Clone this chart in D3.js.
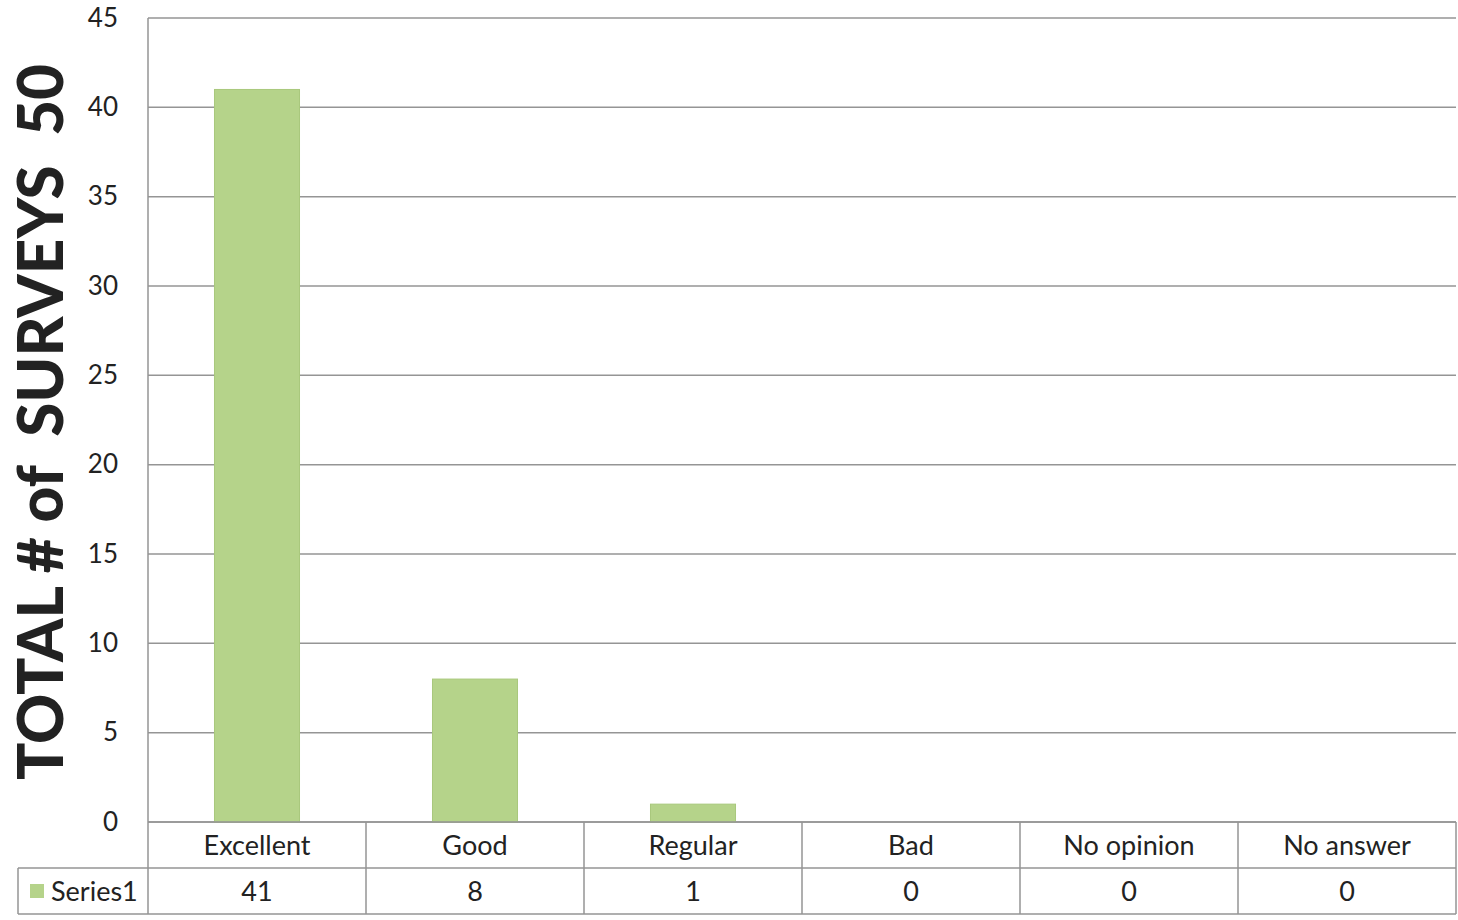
<!DOCTYPE html>
<html>
<head>
<meta charset="utf-8">
<script src="https://cdn.jsdelivr.net/npm/d3@7"></script>
<style>
  body { margin: 0; background: #fff; }
  svg text { font-family: Lato, "Open Sans", sans-serif; fill: #222; }
</style>
</head>
<body>
<svg id="chart"></svg>
<script>
const categories = ['Excellent', 'Good', 'Regular', 'Bad', 'No opinion', 'No answer'];
const seriesName = 'Series1';
const values = [41, 8, 1, 0, 0, 0];
const yTicks = [0, 5, 10, 15, 20, 25, 30, 35, 40, 45];
const yTitle = 'TOTAL # of  SURVEYS  50';

const width = 1458;
const height = 920;
const plot = { left: 148, top: 18, right: 1456, bottom: 822 };
const rowH = 46;
const barColor = '#b5d38a';
const gridColor = '#959595';

const svg = d3.select('svg#chart')
  .attr('width', width)
  .attr('height', height);

const xScale = d3.scaleBand()
  .domain(categories)
  .range([plot.left, plot.right])
  .paddingInner(0)
  .paddingOuter(0);

const yScale = d3.scaleLinear()
  .domain([0, 45])
  .range([plot.bottom, plot.top]);

// gridlines
svg.append('g')
  .selectAll('line')
  .data(yTicks)
  .enter()
  .append('line')
    .attr('x1', plot.left)
    .attr('x2', plot.right)
    .attr('y1', d => yScale(d))
    .attr('y2', d => yScale(d))
    .attr('stroke', gridColor)
    .attr('stroke-width', 1.5);

// left axis line
svg.append('line')
  .attr('x1', plot.left).attr('x2', plot.left)
  .attr('y1', plot.top).attr('y2', plot.bottom)
  .attr('stroke', gridColor)
  .attr('stroke-width', 1.5);

// y tick labels
const yAxis = svg.append('g')
  .attr('transform', `translate(${plot.left - 30},0)`)
  .call(d3.axisLeft(yScale).tickValues(yTicks).tickSize(0).tickPadding(0));
yAxis.select('.domain').remove();
yAxis.selectAll('text')
  .style('font-size', '26px')
  .style('font-family', 'Lato, sans-serif')
  .attr('fill', '#222');

// bars
const barW = xScale.bandwidth() * 0.39;
svg.selectAll('rect.bar')
  .data(values)
  .enter()
  .append('rect')
    .attr('class', 'bar')
    .attr('x', (d, i) => xScale(categories[i]) + xScale.bandwidth() / 2 - barW / 2)
    .attr('width', barW)
    .attr('y', d => yScale(d))
    .attr('height', d => plot.bottom - yScale(d))
    .attr('fill', barColor)
    .attr('stroke', '#a9c87c')
    .attr('stroke-width', 1);

// data table
const table = svg.append('g');
const tableLeft = 18;
const rows = [plot.bottom, plot.bottom + rowH, plot.bottom + rowH * 2];

table.append('line')
  .attr('x1', plot.left).attr('x2', plot.right)
  .attr('y1', rows[0]).attr('y2', rows[0]);
table.append('line')
  .attr('x1', tableLeft).attr('x2', plot.right)
  .attr('y1', rows[1]).attr('y2', rows[1]);
table.append('line')
  .attr('x1', tableLeft).attr('x2', plot.right)
  .attr('y1', rows[2]).attr('y2', rows[2]);
table.append('line')
  .attr('x1', tableLeft).attr('x2', tableLeft)
  .attr('y1', rows[1]).attr('y2', rows[2]);

table.selectAll('line.sep')
  .data(categories.concat(['end']))
  .enter()
  .append('line')
    .attr('class', 'sep')
    .attr('x1', (d, i) => i < categories.length ? xScale(d) : plot.right)
    .attr('x2', (d, i) => i < categories.length ? xScale(d) : plot.right)
    .attr('y1', rows[0])
    .attr('y2', rows[2]);

table.selectAll('line')
  .attr('stroke', gridColor)
  .attr('stroke-width', 1.5);

// category labels
table.selectAll('text.cat')
  .data(categories)
  .enter()
  .append('text')
    .attr('class', 'cat')
    .attr('x', d => xScale(d) + xScale.bandwidth() / 2)
    .attr('y', rows[0] + rowH / 2 + 10)
    .attr('text-anchor', 'middle')
    .style('font-size', '27px')
    .text(d => d);

// values row
table.selectAll('text.val')
  .data(values)
  .enter()
  .append('text')
    .attr('class', 'val')
    .attr('x', (d, i) => xScale(categories[i]) + xScale.bandwidth() / 2)
    .attr('y', rows[1] + rowH / 2 + 10)
    .attr('text-anchor', 'middle')
    .style('font-size', '27px')
    .text(d => d);

// legend key in table
table.append('rect')
  .attr('x', 30)
  .attr('y', rows[1] + rowH / 2 - 7)
  .attr('width', 14)
  .attr('height', 14)
  .attr('fill', barColor);
table.append('text')
  .attr('x', 51)
  .attr('y', rows[1] + rowH / 2 + 10)
  .style('font-size', '27px')
  .text(seriesName);

// y axis title
svg.append('text')
  .attr('transform', `translate(63,${(plot.top + plot.bottom) / 2 + 2}) rotate(-90)`)
  .attr('text-anchor', 'middle')
  .style('font-size', '62px')
  .style('font-weight', '900')
  .style('white-space', 'pre')
  .attr('fill', '#1a1a1a')
  .text(yTitle);
</script>
</body>
</html>
